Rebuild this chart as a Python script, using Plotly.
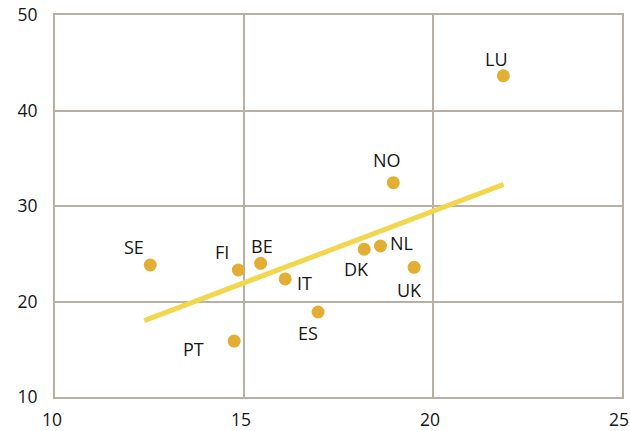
import plotly.graph_objects as go

# ---- data ----
countries = ["SE", "FI", "BE", "IT", "ES", "PT", "NO", "DK", "NL", "UK", "LU"]
x_vals = [12.52, 14.85, 15.44, 16.09, 16.96, 14.74, 18.95, 18.18, 18.61, 19.50, 21.86]
y_vals = [23.82, 23.30, 24.00, 22.36, 18.90, 15.86, 32.44, 25.47, 25.81, 23.58, 43.64]

trend_x = [12.36, 21.87]
trend_y = [17.99, 32.27]

x_ticks = [10, 15, 20, 25]
y_ticks = [10, 20, 30, 40, 50]

# ---- styling: label offsets in pixels (dx right, dy down) ----
label_offsets = [(-16, -18), (-16, -18), (1, -17), (19, 4), (-10, 21), (-41, 8),
                 (-6, -23), (-8, 20), (21, -3), (-5, 23), (-7, -17)]

font_family = "Open Sans, DejaVu Sans, sans-serif"
text_color = "#151515"
grid_color = "#B6B0A7"

fig = go.Figure()
fig.add_trace(go.Scatter(
    x=trend_x, y=trend_y, mode="lines",
    line=dict(color="#F2D64E", width=5),
    hoverinfo="skip", showlegend=False,
))
fig.add_trace(go.Scatter(
    x=x_vals, y=y_vals, mode="markers",
    marker=dict(color="#E2AE33", size=13),
    text=countries, showlegend=False,
))

for name, xv, yv, (dx, dy) in zip(countries, x_vals, y_vals, label_offsets):
    fig.add_annotation(
        x=xv, y=yv, xref="x", yref="y", text=name, showarrow=False,
        xanchor="center", yanchor="middle", xshift=dx, yshift=-dy,
        font=dict(family=font_family, size=18, color=text_color),
    )

fig.update_xaxes(
    range=[10, 25], tickvals=x_ticks, showgrid=True, gridcolor=grid_color, gridwidth=2,
    showline=True, linecolor=grid_color, linewidth=2, mirror=True, zeroline=False,
    ticks="", ticklabelstandoff=6, ticklabelshift=-3, automargin=False,
    tickfont=dict(family=font_family, size=17.5, color=text_color),
)
fig.update_yaxes(
    range=[10, 50], tickvals=y_ticks, showgrid=True, gridcolor=grid_color, gridwidth=2,
    showline=True, linecolor=grid_color, linewidth=2, mirror=True, zeroline=False,
    ticks="", ticklabelstandoff=12, automargin=False,
    tickfont=dict(family=font_family, size=17.5, color=text_color),
)
fig.update_layout(
    width=630, height=431,
    margin=dict(l=55, r=8, t=15, b=34),
    plot_bgcolor="white", paper_bgcolor="white",
    font=dict(family=font_family),
)
fig.write_html(
    "out.html",
    config={"displayModeBar": False},
    post_script="document.body.style.margin='0px';document.body.style.overflow='hidden';",
)
